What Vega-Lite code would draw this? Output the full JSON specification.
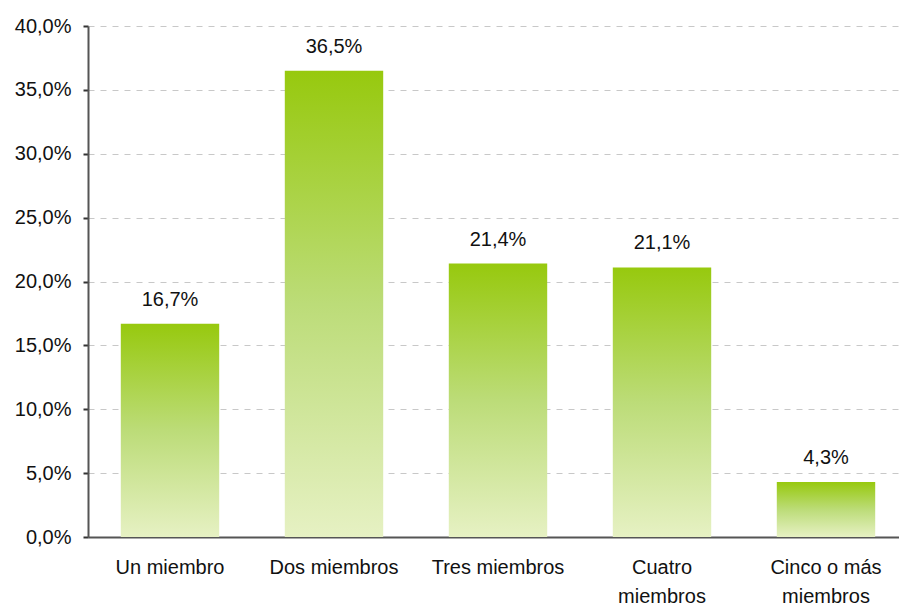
{
  "$schema": "https://vega.github.io/schema/vega-lite/v6.json",
  "width": 811,
  "height": 511,
  "autosize": "none",
  "padding": {"left": 88, "top": 26, "right": 0, "bottom": 69},
  "background": "white",
  "config": {
    "view": {"stroke": null},
    "font": "Liberation Sans"
  },
  "data": {
    "values": [
      {"categoria": "Un miembro", "valor": 16.7},
      {"categoria": "Dos miembros", "valor": 36.5},
      {"categoria": "Tres miembros", "valor": 21.4},
      {"categoria": "Cuatro miembros", "valor": 21.1},
      {"categoria": "Cinco o más miembros", "valor": 4.3}
    ]
  },
  "encoding": {
    "x": {
      "field": "categoria",
      "type": "nominal",
      "sort": null,
      "scale": {"range": [0, 820], "paddingInner": 0.4, "paddingOuter": 0.2},
      "axis": {
        "title": null,
        "labelAngle": 0,
        "labelFontSize": 20,
        "labelColor": "#111111",
        "labelPadding": 30,
        "labelLineHeight": 29,
        "labelBaseline": "middle",
        "ticks": false,
        "domainColor": "#555555",
        "domainWidth": 2,
        "labelExpr": "datum.value == 'Cuatro miembros' ? ['Cuatro', 'miembros'] : datum.value == 'Cinco o más miembros' ? ['Cinco o más', 'miembros'] : datum.value"
      }
    },
    "y": {
      "field": "valor",
      "type": "quantitative",
      "scale": {"domain": [0, 40], "nice": false},
      "axis": {
        "title": null,
        "values": [0, 5, 10, 15, 20, 25, 30, 35, 40],
        "labelExpr": "replace(format(datum.value, '.1f'), '.', ',') + '%'",
        "labelFontSize": 20,
        "labelColor": "#111111",
        "labelPadding": 12,
        "tickSize": 5,
        "tickColor": "#333333",
        "tickWidth": 2,
        "domainColor": "#555555",
        "domainWidth": 2,
        "grid": true,
        "gridColor": "#c8c8c8",
        "gridDash": [6, 6],
        "gridWidth": 1
      }
    }
  },
  "layer": [
    {
      "mark": {
        "type": "bar",
        "fill": {
          "gradient": "linear",
          "x1": 0, "y1": 0, "x2": 0, "y2": 1,
          "stops": [
            {"offset": 0, "color": "#97c90e"},
            {"offset": 0.5, "color": "#bcdc78"},
            {"offset": 1, "color": "#e6f1c3"}
          ]
        }
      }
    },
    {
      "mark": {
        "type": "text",
        "baseline": "alphabetic",
        "dy": -18,
        "fontSize": 20,
        "color": "#111111",
        "text": {"expr": "replace(format(datum.valor, '.1f'), '.', ',') + '%'"}
      }
    }
  ]
}
